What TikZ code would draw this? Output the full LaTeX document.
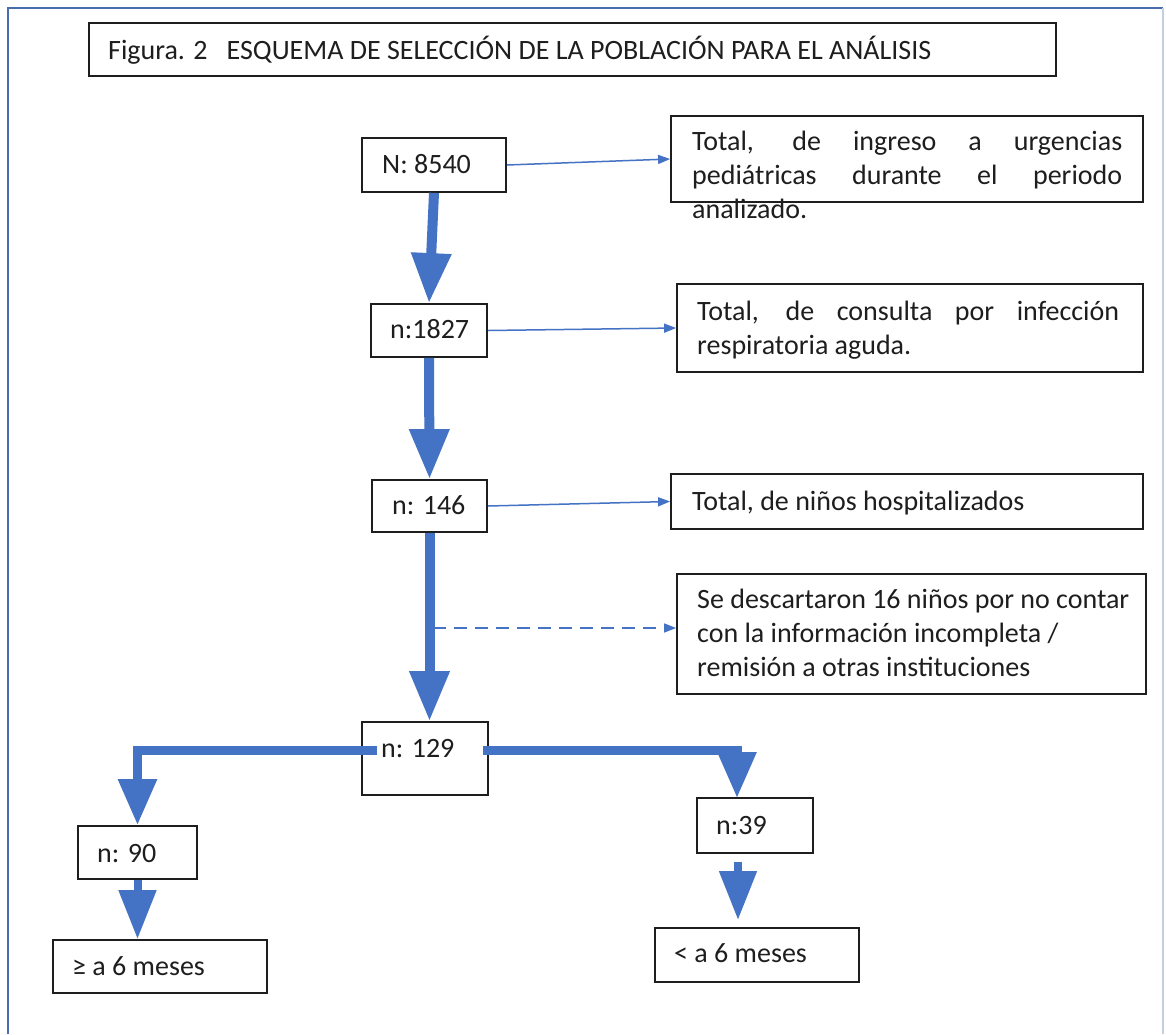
\documentclass[tikz,border=0pt]{standalone}
\usepackage{fontspec}
\setmainfont{Carlito}
\usetikzlibrary{arrows.meta}
\definecolor{arrblue}{HTML}{4472C4}
\definecolor{txt}{HTML}{1E1E1E}
\definecolor{frameblue}{HTML}{4A6DB0}
\definecolor{framelight}{HTML}{C3CEE0}
\begin{document}
\begin{tikzpicture}[x=1pt,y=-1pt,
  box/.style={draw=txt, line width=1.8pt, rectangle, inner sep=0pt},
  lbl/.style={anchor=base west, inner sep=0pt, text=txt, font=\fontsize{28}{34}\selectfont},
  bigarrow/.style={draw=arrblue, line width=10pt, -{Triangle[width=38pt,length=50pt]}},
  branch/.style={draw=arrblue, line width=9pt, line join=miter, -{Triangle[width=37pt,length=46pt]}},
  smallarrow/.style={draw=arrblue, line width=8pt, -{Triangle[width=36pt,length=49pt]}},
  thinarrow/.style={draw=arrblue, line width=1.5pt, -{Triangle[width=9pt,length=12pt]}},
  dasharrow/.style={thinarrow, dash pattern=on 13pt off 8pt}
]
\useasboundingbox (0,0) rectangle (1166,1034);
\fill[white] (0,0) rectangle (1166,1034);
\draw[frameblue, line width=1.5pt] (8,1034) -- (8,8) -- (1163,8);
\draw[framelight, line width=2pt] (1163,8) -- (1163,1034);

% boxes
\node[box, minimum width=967pt, minimum height=53pt] (title) at (572.5,49.5) {};
\node[box, minimum width=144pt, minimum height=54pt] (N) at (434,165) {};
\node[box, minimum width=472pt, minimum height=86pt] (tot1) at (907,159) {};
\node[box, minimum width=116pt, minimum height=53pt] (n1827) at (429,330.5) {};
\node[box, minimum width=466pt, minimum height=88pt] (tot2) at (910,328) {};
\node[box, minimum width=115pt, minimum height=52pt] (n146) at (429.5,506) {};
\node[box, minimum width=472pt, minimum height=55pt] (tot3) at (907,501.5) {};
\node[box, minimum width=469pt, minimum height=120pt] (sed) at (911.5,634) {};
\node[box, minimum width=126pt, minimum height=73pt] (n129) at (425,758.5) {};
\node[box, minimum width=119pt, minimum height=53pt] (n90) at (137.5,852.5) {};
\node[box, minimum width=214pt, minimum height=53pt] (ge6) at (160,966.5) {};
\node[box, minimum width=116pt, minimum height=55pt] (n39) at (755,825.5) {};
\node[box, minimum width=204pt, minimum height=54pt] (lt6) at (757,955) {};

% texts
\node[lbl] (titletxt) at (108,59) {Figura. 2\hspace{19pt}ESQUEMA DE SELECCIÓN DE LA POBLACIÓN PARA EL ANÁLISIS};
\node[lbl] (Ntxt) at (382,173) {N: 8540};
\node[lbl] (n1827txt) at (390,338) {n:1827};
\node[lbl] (n146txt) at (392,514) {n: 146};
\node[lbl] (n129txt) at (381,757) {n: 129};
\node[lbl] (n90txt) at (97,862) {n: 90};
\node[lbl] (ge6txt) at (72,975) {≥ a 6 meses};
\node[lbl] (n39txt) at (716,834) {n:39};
\node[lbl] (lt6txt) at (674,962) {< a 6 meses};
\node[lbl] (tot1txt) at (692,150) {\parbox[t]{460pt}{\makebox[430pt][s]{Total, de ingreso a urgencias}\\\makebox[430pt][s]{pediátricas durante el periodo}\\analizado.}};
\node[lbl] (tot2txt) at (697,320) {\parbox[t]{440pt}{\makebox[422pt][s]{Total, de consulta por infección}\\respiratoria aguda.}};
\node[lbl] (tot3txt) at (692,510) {Total, de niños hospitalizados};
\node[lbl] (sedtxt) at (697,608) {\parbox[t]{445pt}{Se descartaron 16 niños por no contar\\con la información incompleta /\\remisión a otras instituciones}};

% main arrows
\draw[bigarrow] (N.south) -- (n1827.north);
\draw[bigarrow] (n1827.south) -- (n146.north);
\draw[bigarrow] (n146.south) -- (n146.south |- n129.north);

% side arrows
\draw[thinarrow] (N.east) -- (tot1.west);
\draw[thinarrow] (n1827.east) -- (tot2.west);
\draw[thinarrow] (n146.east) -- (tot3.west);
\coordinate (dj) at (433,628);
\draw[dasharrow] (dj) -- (dj -| sed.west);

% branches
\coordinate (lb) at (377,750);
\coordinate (rb) at (483,750);
\coordinate (rt) at (737,798);
\draw[branch] (lb) -| (n90.north);
\draw[branch] (rb) -| (rt);

% lower arrows
\draw[smallarrow] (n90.south) -- (n90.south |- ge6.north);
\coordinate (s39) at (738,862);
\coordinate (e39) at (738,920);
\draw[smallarrow] (s39) -- (e39);
\end{tikzpicture}
\end{document}
